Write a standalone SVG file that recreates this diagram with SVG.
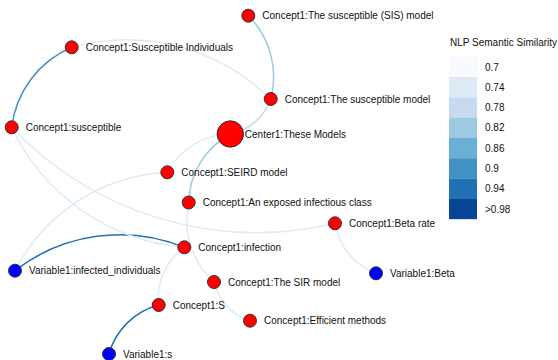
<svg xmlns="http://www.w3.org/2000/svg" width="558" height="360" viewBox="0 0 558 360">
  <style>
    text { font-family: "Liberation Sans", Arial, Helvetica, sans-serif; font-size: 10px; fill: #111; }
    .link { fill: none; stroke-width: 1.5; }
    .s74 { stroke: #deebf7; }
    .s78 { stroke: #c6dbef; }
    .s82 { stroke: #9ecae1; }
    .s90 { stroke: #4292c6; }
    .s94 { stroke: #2171b5; }
    .concept { fill: #ff0000; stroke: #333; stroke-width: 1; }
    .variable { fill: #0000ff; stroke: #333; stroke-width: 1; }
  </style>

  <!-- similarity links: arcs with radius equal to the chord length -->
  <g id="links">
    <path class="link s82" d="M248.3,15.7 A86.3,86.3 0 0,1 270.7,99"/>
    <path class="link s90" d="M71.7,47.3 A100,100 0 0,0 11.7,127.3"/>
    <path class="link s74" d="M71.7,47.3 A205.6,205.6 0 0,1 270.7,99"/>
    <path class="link s78" d="M270.7,99 A53.5,53.5 0 0,1 230.3,134"/>
    <path class="link s74" d="M230.3,134 A73.7,73.7 0 0,0 167.3,172.3"/>
    <path class="link s74" d="M167.3,172.3 A181.3,181.3 0 0,0 15,270.7"/>
    <path class="link s82" d="M230.3,134 A80.1,80.1 0 0,0 188.7,202.5"/>
    <path class="link s74" d="M188.7,202.5 A83.4,83.4 0 0,0 214,282"/>
    <path class="link s74" d="M214,282 A52.9,52.9 0 0,0 250,320.7"/>
    <path class="link s74" d="M158.7,305 A63.1,63.1 0 0,1 184.3,247.3"/>
    <path class="link s94" d="M109,354 A69.8,69.8 0 0,1 158.7,305"/>
    <path class="link s94" d="M15,270.7 A170.9,170.9 0 0,1 184.3,247.3"/>
    <path class="link s74" d="M335,223.3 A64.7,64.7 0 0,0 376,273.3"/>
    <path class="link s74" d="M11.7,127.3 A337.3,337.3 0 0,0 335,223.3"/>
    <path class="link s74" d="M11.7,127.3 A210.2,210.2 0 0,0 184.3,247.3"/>
  </g>

  <!-- nodes -->
  <g id="node-sis-model">
    <circle class="concept" cx="248.3" cy="15.7" r="6.5"/>
    <text x="262.3" y="19.2">Concept1:The susceptible (SIS) model</text>
  </g>
  <g id="node-susceptible-individuals">
    <circle class="concept" cx="71.7" cy="47.3" r="6.5"/>
    <text x="85.7" y="50.8">Concept1:Susceptible Individuals</text>
  </g>
  <g id="node-susceptible">
    <circle class="concept" cx="11.7" cy="127.3" r="6.5"/>
    <text x="25.7" y="130.8">Concept1:susceptible</text>
  </g>
  <g id="node-susceptible-model">
    <circle class="concept" cx="270.7" cy="99" r="6.5"/>
    <text x="284.7" y="102.5">Concept1:The susceptible model</text>
  </g>
  <g id="node-center">
    <circle class="concept" cx="230.3" cy="134" r="13.2"/>
    <text x="244.8" y="137.5">Center1:These Models</text>
  </g>
  <g id="node-seird">
    <circle class="concept" cx="167.3" cy="172.3" r="6.5"/>
    <text x="181.3" y="175.8">Concept1:SEIRD model</text>
  </g>
  <g id="node-exposed-class">
    <circle class="concept" cx="188.7" cy="202.5" r="6.5"/>
    <text x="202.7" y="206">Concept1:An exposed infectious class</text>
  </g>
  <g id="node-beta-rate">
    <circle class="concept" cx="335" cy="223.3" r="6.5"/>
    <text x="349" y="226.8">Concept1:Beta rate</text>
  </g>
  <g id="node-infection">
    <circle class="concept" cx="184.3" cy="247.3" r="6.5"/>
    <text x="198.3" y="250.8">Concept1:infection</text>
  </g>
  <g id="node-infected-individuals">
    <circle class="variable" cx="15" cy="270.7" r="6.5"/>
    <text x="29" y="274.2">Variable1:infected_individuals</text>
  </g>
  <g id="node-beta">
    <circle class="variable" cx="376" cy="273.3" r="6.5"/>
    <text x="390" y="276.8">Variable1:Beta</text>
  </g>
  <g id="node-sir-model">
    <circle class="concept" cx="214" cy="282" r="6.5"/>
    <text x="228" y="285.5">Concept1:The SIR model</text>
  </g>
  <g id="node-s">
    <circle class="concept" cx="158.7" cy="305" r="6.5"/>
    <text x="172.7" y="308.5">Concept1:S</text>
  </g>
  <g id="node-efficient-methods">
    <circle class="concept" cx="250" cy="320.7" r="6.5"/>
    <text x="264" y="324.2">Concept1:Efficient methods</text>
  </g>
  <g id="node-var-s">
    <circle class="variable" cx="109" cy="354" r="6.5"/>
    <text x="123" y="357.5">Variable1:s</text>
  </g>

  <!-- colour legend -->
  <g id="legend">
    <text x="450" y="45.5">NLP Semantic Similarity</text>
    <rect x="449" y="56.7" width="28" height="20.4" fill="#f7fbff"/>
    <rect x="449" y="77" width="28" height="20.4" fill="#deebf7"/>
    <rect x="449" y="97.3" width="28" height="20.4" fill="#c6dbef"/>
    <rect x="449" y="117.6" width="28" height="20.4" fill="#9ecae1"/>
    <rect x="449" y="137.9" width="28" height="20.4" fill="#6baed6"/>
    <rect x="449" y="158.2" width="28" height="20.4" fill="#4292c6"/>
    <rect x="449" y="178.5" width="28" height="20.4" fill="#2171b5"/>
    <rect x="449" y="198.8" width="28" height="20.4" fill="#084594"/>
    <text x="485" y="70.5">0.7</text>
    <text x="485" y="90.8">0.74</text>
    <text x="485" y="111.1">0.78</text>
    <text x="485" y="131.4">0.82</text>
    <text x="485" y="151.7">0.86</text>
    <text x="485" y="172">0.9</text>
    <text x="485" y="192.3">0.94</text>
    <text x="485" y="212.6">&gt;0.98</text>
  </g>
</svg>
